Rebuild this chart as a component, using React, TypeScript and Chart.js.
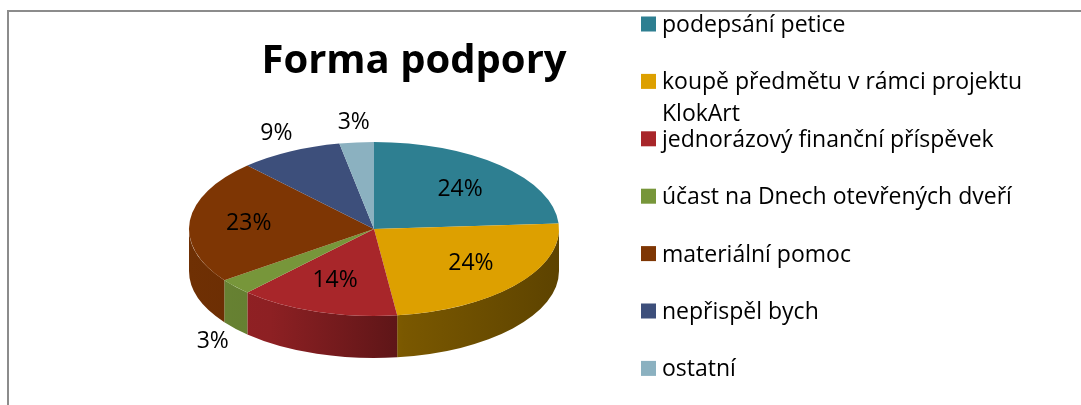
import React, { useEffect, useRef } from "react";
import { Chart, registerables } from "chart.js";

Chart.register(...registerables);

const chartTitle = "Forma podpory";
const categories = [
  "podepsání petice",
  "koupě předmětu v rámci projektu KlokArt",
  "jednorázový finanční příspěvek",
  "účast na Dnech otevřených dveří",
  "materiální pomoc",
  "nepřispěl bych",
  "ostatní",
];
const shares = [24, 24, 14, 3, 23, 9, 3];
const sliceColors = ["#2E7F91", "#DDA000", "#A8262A", "#77963A", "#7E3604", "#3D4F7B", "#8BB1C0"];

const FONT = "'Open Sans', Lato, sans-serif";
// projected ellipse of the pie
const CX = 374, CY = 229, RX = 185, RY = 87, DEPTH = 42;

function shade(hex: string, m: number): string {
  const n = parseInt(hex.slice(1), 16);
  const r = Math.round(((n >> 16) & 255) * m);
  const g = Math.round(((n >> 8) & 255) * m);
  const b = Math.round((n & 255) * m);
  return `rgb(${r},${g},${b})`;
}

function wrap(ctx: CanvasRenderingContext2D, text: string, maxW: number): string[] {
  const words = text.split(" ");
  const lines: string[] = [];
  let cur = "";
  for (const w of words) {
    const t = cur ? cur + " " + w : w;
    if (ctx.measureText(t).width > maxW && cur) {
      lines.push(cur);
      cur = w;
    } else cur = t;
  }
  if (cur) lines.push(cur);
  return lines;
}

const pie3d = {
  id: "pie3d",
  beforeDraw(chart: any) {
    const ctx: CanvasRenderingContext2D = chart.ctx;
    ctx.save();
    ctx.fillStyle = "#ffffff";
    ctx.fillRect(0, 0, chart.width, chart.height);
    // frame
    ctx.strokeStyle = "#8c8c8c";
    ctx.lineWidth = 2;
    ctx.beginPath();
    ctx.moveTo(8, chart.height + 5);
    ctx.lineTo(8, 11);
    ctx.lineTo(chart.width + 5, 11);
    ctx.stroke();
    // title
    ctx.fillStyle = "#000";
    ctx.font = `bold 40px ${FONT}`;
    ctx.textAlign = "center";
    ctx.textBaseline = "alphabetic";
    ctx.fillText(chartTitle, 414, 73);
    // legend
    ctx.font = `23px ${FONT}`;
    ctx.textAlign = "left";
    categories.forEach((label, i) => {
      const yc = 24 + i * 57.4;
      ctx.fillStyle = sliceColors[i];
      ctx.fillRect(641, yc - 7.5, 15, 15);
      ctx.fillStyle = "#000";
      const lines = wrap(ctx, label, 405);
      lines.forEach((ln, j) => ctx.fillText(ln, 662, yc + 8 + j * 32));
    });
    ctx.restore();
  },
  beforeDatasetsDraw(chart: any) {
    const ctx: CanvasRenderingContext2D = chart.ctx;
    const arcs = chart.getDatasetMeta(0).data;
    if (!arcs.length) return;
    // front walls
    arcs.forEach((arc: any, i: number) => {
      const s = arc.startAngle, e = arc.endAngle;
      for (const k of [-1, 0, 1]) {
        const lo = Math.max(s, 2 * Math.PI * k);
        const hi = Math.min(e, 2 * Math.PI * k + Math.PI);
        if (hi <= lo) continue;
        const g = ctx.createLinearGradient(CX - RX, 0, CX + RX, 0);
        g.addColorStop(0, shade(sliceColors[i], 0.88));
        g.addColorStop(0.22, shade(sliceColors[i], 0.84));
        g.addColorStop(0.58, shade(sliceColors[i], 0.55));
        g.addColorStop(1, shade(sliceColors[i], 0.42));
        ctx.beginPath();
        ctx.ellipse(CX, CY, RX, RY, 0, lo, hi, false);
        ctx.ellipse(CX, CY + DEPTH, RX, RY, 0, hi, lo, true);
        ctx.closePath();
        ctx.fillStyle = g;
        ctx.fill();
      }
    });
    const a0 = arcs[0];
    const R = a0.outerRadius;
    ctx.save();
    ctx.translate(CX, CY);
    ctx.scale(RX / R, RY / R);
    ctx.translate(-a0.x, -a0.y);
  },
  afterDatasetsDraw(chart: any) {
    const ctx: CanvasRenderingContext2D = chart.ctx;
    const arcs = chart.getDatasetMeta(0).data;
    if (!arcs.length) return;
    ctx.restore();
    const total = shares.reduce((a, b) => a + b, 0);
    ctx.save();
    ctx.fillStyle = "#000";
    ctx.font = `23px ${FONT}`;
    ctx.textAlign = "center";
    ctx.textBaseline = "middle";
    arcs.forEach((arc: any, i: number) => {
      const mid = (arc.startAngle + arc.endAngle) / 2;
      const c = Math.cos(mid), s = Math.sin(mid);
      const txt = Math.round((shares[i] / total) * 100) + "%";
      let x: number, y: number;
      if (shares[i] >= 10) {
        x = CX + RX * 0.68 * c;
        y = CY + RY * 0.62 * s;
      } else {
        x = CX + RX * c + c * 30;
        y = CY + RY * s + (s > 0 ? DEPTH : 0) + s * 20;
      }
      ctx.fillText(txt, x, y);
    });
    ctx.restore();
  },
};

export default function App() {
  const ref = useRef<HTMLCanvasElement>(null);
  useEffect(() => {
    if (!ref.current) return;
    const chart = new Chart(ref.current, {
      type: "pie",
      data: {
        labels: categories,
        datasets: [
          {
            data: shares,
            backgroundColor: sliceColors,
            borderWidth: 0,
            clip: false as any,
          },
        ],
      },
      options: {
        responsive: false,
        maintainAspectRatio: false,
        animation: false,
        events: [],
        devicePixelRatio: 1,
        layout: { padding: { left: 189, right: 1081 - 559, top: 17.5, bottom: 17.5 } },
        plugins: {
          legend: { display: false },
          title: { display: false },
          tooltip: { enabled: false },
        },
      },
      plugins: [pie3d],
    });
    return () => chart.destroy();
  }, []);
  return (
    <div style={{ position: "absolute", left: 0, top: 0, width: 1081, height: 405 }}>
      <canvas ref={ref} width={1081} height={405} style={{ display: "block" }} />
    </div>
  );
}
